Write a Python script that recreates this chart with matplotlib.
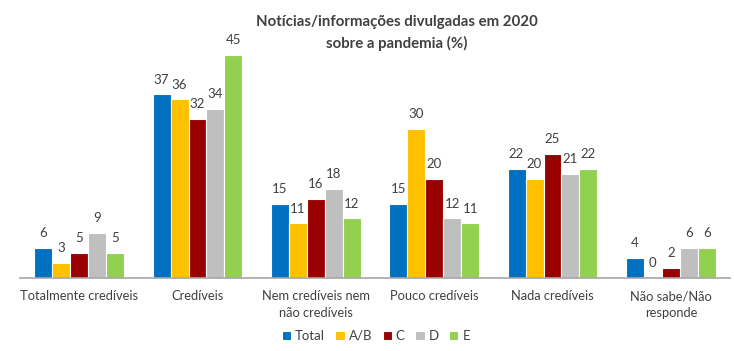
import matplotlib.pyplot as plt
import numpy as np

plt.rcParams['font.family'] = ['Lato', 'DejaVu Sans']

categories = ["Totalmente credíveis", "Credíveis", "Nem credíveis nem\nnão credíveis",
              "Pouco credíveis", "Nada credíveis", "Não sabe/Não\nresponde"]
series = ["Total", "A/B", "C", "D", "E"]
values = {
    "Total": [6, 37, 15, 15, 22, 4],
    "A/B": [3, 36, 11, 30, 20, 0],
    "C": [5, 32, 16, 20, 25, 2],
    "D": [9, 34, 18, 12, 21, 6],
    "E": [5, 45, 12, 11, 22, 6],
}
colors = ["#0070C0", "#FFC000", "#990000", "#BFBFBF", "#92D050"]
text_col = "#404040"

fig = plt.figure(figsize=(7.34, 3.51), dpi=100)
ax = fig.add_axes([20/734, 73/351, 710/734, 248/351])

x = np.arange(len(categories))
w = 0.152
for i, s in enumerate(series):
    pos = x + (i - 2) * w
    ax.bar(pos, values[s], w, color=colors[i], edgecolor="white", linewidth=0.8, label=s)
    for p, v in zip(pos, values[s]):
        ax.text(p, v + 1.8, str(v), ha="center", va="bottom", fontsize=9.5, color=text_col)

ax.set_xlim(-0.5, len(categories) - 0.5)
ax.set_ylim(0, 50)
ax.set_yticks([])
ax.set_xticks(x)
ax.set_xticklabels(categories, fontsize=9.3, color=text_col, linespacing=1.45)
ax.tick_params(axis="x", length=0, pad=9)
for sp in ["top", "right", "left"]:
    ax.spines[sp].set_visible(False)
ax.spines["bottom"].set_color("#A6A6A6")
ax.spines["bottom"].set_linewidth(1.2)

fig.text(0.541, 0.905, "Notícias/informações divulgadas em 2020\nsobre a pandemia (%)",
         ha="center", va="center", fontsize=10.8, fontweight="bold", color=text_col,
         linespacing=1.6)

fig.legend(loc="center", bbox_to_anchor=(0.512, 0.043), ncol=5, frameon=False,
           fontsize=9.5, handlelength=0.7, handleheight=0.7, handletextpad=0.3,
           columnspacing=0.8, labelcolor=text_col)

fig.savefig("out.png", dpi=100)
